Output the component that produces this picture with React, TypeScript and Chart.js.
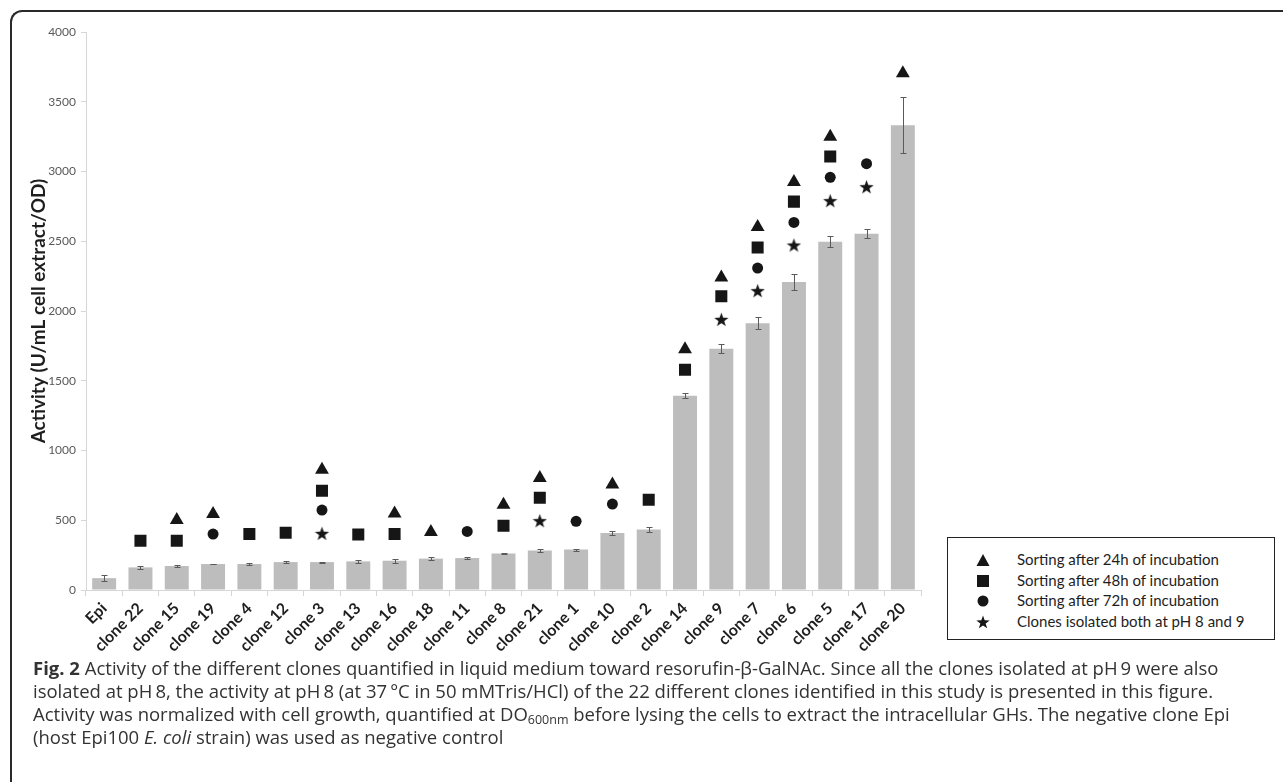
import React, { useEffect, useRef } from 'react';
import { Chart, registerables } from 'chart.js';

Chart.register(...registerables);

const categories = [
  'Epi', 'clone 22', 'clone 15', 'clone 19', 'clone 4', 'clone 12', 'clone 3', 'clone 13',
  'clone 16', 'clone 18', 'clone 11', 'clone 8', 'clone 21', 'clone 1', 'clone 10', 'clone 2',
  'clone 14', 'clone 9', 'clone 7', 'clone 6', 'clone 5', 'clone 17', 'clone 20',
];

const activity = [
  85, 162, 172, 186, 186, 200, 200, 205, 210, 225, 229, 262, 284, 290, 409, 434,
  1393, 1730, 1912, 2207, 2497, 2554, 3332,
];

const activityError = [
  20, 8, 10, 3, 8, 5, 3, 10, 15, 10, 5, 6, 10, 7, 12, 15,
  20, 30, 42, 57, 40, 31, 200,
];

// marker heights (same units as the y axis); null = no marker
const sorting24h = [
  null, null, 502, 545, null, null, 862, null, 549, 416, null, 611, 803, null, 757, null,
  1725, 2241, 2602, 2925, 3250, null, 3705,
];
const sorting48h = [
  null, 353, 353, null, 401, 411, 712, 398, 401, null, null, 461, 662, null, null, 647,
  1579, 2105, 2456, 2784, 3108, null, null,
];
const sorting72h = [
  null, null, null, 401, null, null, 573, null, null, null, 420, null, null, 492, 616, null,
  null, null, 2308, 2635, 2958, 3056, null,
];
const bothPH = [
  null, null, null, null, null, null, 406, null, null, null, null, null, 497, null, null, null,
  null, 1940, 2146, 2473, 2791, 2891, null,
];

const yTicks = [0, 500, 1000, 1500, 2000, 2500, 3000, 3500, 4000];

const legendLabels = [
  'Sorting after 24h of incubation',
  'Sorting after 48h of incubation',
  'Sorting after 72h of incubation',
  'Clones isolated both at pH 8 and 9',
];

const MARK = '#161616';
const AXIS_FONT = 'Lato, "Liberation Sans", sans-serif';

function makeStar(size: number) {
  const c = document.createElement('canvas');
  c.width = size;
  c.height = size;
  const ctx = c.getContext('2d')!;
  ctx.fillStyle = MARK;
  ctx.beginPath();
  const cx = size / 2;
  const cy = size / 2 + size * 0.05;
  const R = size / 2;
  const r = R * 0.4;
  for (let i = 0; i < 10; i++) {
    const a = -Math.PI / 2 + (i * Math.PI) / 5;
    const rad = i % 2 === 0 ? R : r;
    ctx.lineTo(cx + rad * Math.cos(a), cy + rad * Math.sin(a));
  }
  ctx.closePath();
  ctx.fill();
  return c;
}

const errorBarPlugin = {
  id: 'errorBars',
  afterDatasetsDraw(chart: any) {
    const meta = chart.getDatasetMeta(0);
    const y = chart.scales.y;
    const ctx = chart.ctx;
    ctx.save();
    ctx.strokeStyle = '#5a5a5a';
    ctx.lineWidth = 1;
    meta.data.forEach((bar: any, i: number) => {
      const v = activity[i];
      const e = activityError[i];
      const x = Math.round(bar.x) + 0.5;
      const yTop = Math.round(y.getPixelForValue(v + e)) + 0.5;
      const yBot = Math.round(y.getPixelForValue(v - e)) + 0.5;
      ctx.beginPath();
      ctx.moveTo(x, yTop);
      ctx.lineTo(x, yBot);
      ctx.moveTo(x - 3, yTop);
      ctx.lineTo(x + 3, yTop);
      ctx.moveTo(x - 3, yBot);
      ctx.lineTo(x + 3, yBot);
      ctx.stroke();
    });
    ctx.restore();
  },
};

function markerSet(data: (number | null)[], style: any, radius: number) {
  return {
    type: 'line' as const,
    data,
    showLine: false,
    pointStyle: style,
    pointRadius: radius,
    pointHoverRadius: radius,
    pointBackgroundColor: MARK,
    pointBorderColor: MARK,
    pointBorderWidth: 0,
    backgroundColor: MARK,
    borderColor: MARK,
  };
}

function ActivityChart() {
  const ref = useRef<HTMLCanvasElement>(null);
  useEffect(() => {
    const star = makeStar(15);
    const chart = new Chart(ref.current!, {
      type: 'bar',
      data: {
        labels: categories,
        datasets: [
          {
            type: 'bar',
            data: activity,
            backgroundColor: '#bdbdbd',
            borderWidth: 0,
            barPercentage: 0.66,
            categoryPercentage: 1,
            order: 5,
          } as any,
          markerSet(sorting24h, 'triangle', 8),
          markerSet(sorting48h, 'rect', 8.5),
          markerSet(sorting72h, 'circle', 5.5),
          markerSet(bothPH, star, 7),
        ],
      },
      options: {
        animation: false,
        responsive: false,
        maintainAspectRatio: false,
        layout: { padding: { left: 20, top: 32, right: 14, bottom: 0 } },
        plugins: { legend: { display: false }, tooltip: { enabled: false } },
        scales: {
          x: {
            offset: true,
            afterFit: (s: any) => { s.height = 75; },
            grid: {
              offset: true,
              drawOnChartArea: false,
              tickLength: 6,
              color: '#d6d6d6',
            },
            border: { color: '#d6d6d6' },
            ticks: {
              autoSkip: false,
              minRotation: 45,
              maxRotation: 45,
              padding: 3,
              color: '#1e1e1e',
              font: { family: AXIS_FONT, size: 16, weight: 'bold' },
            },
          },
          y: {
            min: 0,
            max: 4000,
            afterFit: (s: any) => { s.width = 66; },
            afterBuildTicks: (s: any) => { s.ticks = yTicks.map((v) => ({ value: v })); },
            grid: { drawOnChartArea: false, tickLength: 5, color: '#d6d6d6' },
            border: { color: '#d6d6d6' },
            ticks: {
              padding: 5,
              color: '#595959',
              font: { family: AXIS_FONT, size: 12 },
              callback: (v: any) => String(v),
            },
            title: {
              display: true,
              text: 'Activity (U/mL cell extract/OD)',
              color: '#1e1e1e',
              padding: { top: 7, bottom: 0 },
              font: { family: AXIS_FONT, size: 19, weight: 'bold' },
            },
          },
        },
      },
      plugins: [errorBarPlugin],
    } as any);
    return () => chart.destroy();
  }, []);
  return (
    <canvas
      ref={ref}
      width={935}
      height={665}
      style={{ position: 'absolute', left: 0, top: 0, width: 935, height: 665 }}
    />
  );
}

function LegendSymbol({ i }: { i: number }) {
  const s = 14;
  let shape: any;
  if (i === 0) shape = <polygon points="7,1 13.5,13 0.5,13" fill={MARK} />;
  else if (i === 1) shape = <rect x="1" y="1" width="12" height="12" fill={MARK} />;
  else if (i === 2) shape = <circle cx="7" cy="7" r="5.5" fill={MARK} />;
  else {
    const pts: string[] = [];
    for (let k = 0; k < 10; k++) {
      const a = -Math.PI / 2 + (k * Math.PI) / 5;
      const rad = k % 2 === 0 ? 7 : 2.8;
      pts.push(`${(7 + rad * Math.cos(a)).toFixed(2)},${(7.6 + rad * Math.sin(a)).toFixed(2)}`);
    }
    shape = <polygon points={pts.join(' ')} fill={MARK} />;
  }
  return (
    <svg width={s} height={s} style={{ position: 'absolute', left: -41, top: 3 }}>
      {shape}
    </svg>
  );
}

export default function App() {
  return (
    <div
      style={{
        position: 'absolute',
        left: 0,
        top: 0,
        width: 1283,
        height: 782,
        overflow: 'hidden',
        background: '#fff',
      }}
    >
      <div
        style={{
          position: 'absolute',
          left: 10,
          top: 10,
          width: 1300,
          height: 800,
          borderTop: '2px solid #2a2a2a',
          borderLeft: '2px solid #2a2a2a',
          borderTopLeftRadius: 12,
          boxSizing: 'border-box',
        }}
      />
      <ActivityChart />
      <div
        style={{
          position: 'absolute',
          left: 947,
          top: 537,
          width: 328,
          height: 103,
          border: '1.5px solid #222',
          boxSizing: 'border-box',
        }}
      >
        {legendLabels.map((t, i) => (
          <div
            key={t}
            style={{
              position: 'absolute',
              left: 69,
              top: 12 + i * 20.7,
              font: `15px ${AXIS_FONT}`,
              color: '#1e1e1e',
              whiteSpace: 'nowrap',
              lineHeight: '19px',
            }}
          >
            <LegendSymbol i={i} />
            {t}
          </div>
        ))}
      </div>
      <div
        style={{
          position: 'absolute',
          left: 33,
          top: 656,
          font: '18.5px "Open Sans", sans-serif',
          lineHeight: '23px',
          color: '#333',
          whiteSpace: 'nowrap',
        }}
      >
        <b>Fig. 2</b> Activity of the different clones quantified in liquid medium toward resorufin-β-GalNAc. Since all the clones isolated at pH&#8201;9 were also
        <br />
        isolated at pH&#8201;8, the activity at pH&#8201;8 (at 37&#8201;°C in 50 mMTris/HCl) of the 22 different clones identified in this study is presented in this figure.
        <br />
        Activity was normalized with cell growth, quantified at DO
        <sub style={{ fontSize: 12.5, lineHeight: 0, verticalAlign: -3 }}>600nm</sub> before lysing the cells to extract the intracellular GHs. The negative clone Epi
        <br />
        (host Epi100 <i>E. coli</i> strain) was used as negative control
      </div>
    </div>
  );
}
